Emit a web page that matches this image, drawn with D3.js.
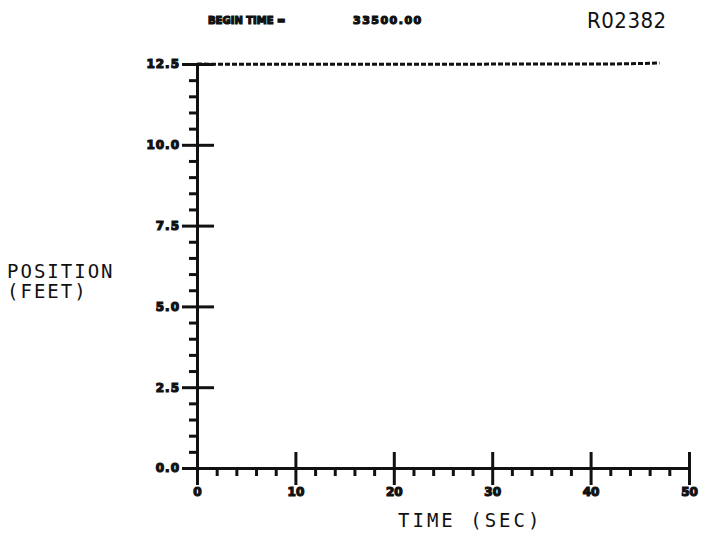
<!DOCTYPE html>
<html>
<head>
<meta charset="utf-8">
<script src="https://cdn.jsdelivr.net/npm/d3@7"></script>
<style>
  body { margin: 0; background: #fff; }
  svg { display: block; }
</style>
</head>
<body>
<svg id="chart" width="715" height="544"></svg>
<script>
// Time samples (sec) and position readings (feet) along the trace
const timeSec = [0, 2, 4, 6, 8, 10, 12, 14, 16, 18, 20, 22, 24, 26, 28, 30, 32, 34, 36, 38, 40, 42, 44, 46, 47];
const positionFt = [12.5, 12.49, 12.49, 12.49, 12.49, 12.49, 12.49, 12.49, 12.49, 12.49, 12.49, 12.49, 12.49, 12.49, 12.49, 12.5, 12.5, 12.5, 12.5, 12.5, 12.5, 12.5, 12.51, 12.52, 12.53];

const yMajor = [0, 2.5, 5, 7.5, 10, 12.5];
const yMajorLabels = ["0.0", "2.5", "5.0", "7.5", "10.0", "12.5"];
const xMajor = [0, 10, 20, 30, 40, 50];
const xMajorLabels = ["0", "10", "20", "30", "40", "50"];

const svg = d3.select('#chart');
const ink = '#111';

const x = d3.scaleLinear().domain([0, 50]).range([197, 689]);
const y = d3.scaleLinear().domain([0, 12.5]).range([468, 64]);

const yMinor = d3.range(0, 12.5001, 0.5).filter(v => !yMajor.some(m => Math.abs(m - v) < 1e-6));
const xMinor = d3.range(0, 50.001, 2).filter(v => !xMajor.includes(v));

function styleAxis(g) {
  g.selectAll('path, line').attr('stroke', ink).attr('stroke-width', 3);
  g.selectAll('text').attr('fill', ink);
}

// blocky plotter-style tick labels
function blobText(sel, size) {
  sel.attr('font-family', 'DejaVu Sans')
    .attr('font-weight', 'bold')
    .attr('font-size', size)
    .attr('letter-spacing', 1)
    .attr('stroke', ink)
    .attr('stroke-width', 1.2);
}

// Y axis: minor ticks (left only)
svg.append('g')
  .attr('transform', `translate(${x(0)},0)`)
  .call(d3.axisLeft(y).tickValues(yMinor).tickSize(8).tickSizeOuter(0).tickFormat(''))
  .call(styleAxis);

// Y axis: major ticks cross the line
svg.append('g')
  .attr('transform', `translate(${x(0)},0)`)
  .call(d3.axisRight(y).tickValues(yMajor).tickSize(17).tickSizeOuter(0).tickFormat(''))
  .call(g => g.select('.domain').remove())
  .call(styleAxis);

svg.append('g')
  .attr('transform', `translate(${x(0)},0)`)
  .call(d3.axisLeft(y).tickValues(yMajor).tickSize(15).tickSizeOuter(0).tickPadding(2)
    .tickFormat((d, i) => yMajorLabels[i]))
  .call(g => g.select('.domain').remove())
  .call(styleAxis)
  .call(g => g.selectAll('text').call(blobText, 12));

// X axis: minor ticks (down only)
svg.append('g')
  .attr('transform', `translate(0,${y(0)})`)
  .call(d3.axisBottom(x).tickValues(xMinor).tickSize(8).tickSizeOuter(0).tickFormat(''))
  .call(styleAxis);

svg.append('g')
  .attr('transform', `translate(0,${y(0)})`)
  .call(d3.axisTop(x).tickValues(xMajor).tickSize(16).tickSizeOuter(0).tickFormat(''))
  .call(g => g.select('.domain').remove())
  .call(styleAxis);

svg.append('g')
  .attr('transform', `translate(0,${y(0)})`)
  .call(d3.axisBottom(x).tickValues(xMajor).tickSize(17).tickSizeOuter(0).tickPadding(2)
    .tickFormat((d, i) => xMajorLabels[i]))
  .call(g => g.select('.domain').remove())
  .call(styleAxis)
  .call(g => g.selectAll('text').call(blobText, 12).attr('letter-spacing', 0));

// Position trace
const line = d3.line()
  .x((d, i) => x(timeSec[i]))
  .y(d => y(d));

svg.append('path')
  .datum(positionFt)
  .attr('fill', 'none')
  .attr('stroke', ink)
  .attr('stroke-width', 3)
  .attr('stroke-dasharray', '5,2')
  .attr('d', line);

// Header text
svg.append('text')
  .attr('x', 208).attr('y', 24)
  .call(blobText, 10)
  .attr('letter-spacing', 0)
  .attr('fill', ink)
  .text('BEGIN TIME =');

svg.append('text')
  .attr('x', 353).attr('y', 24)
  .call(blobText, 11)
  .attr('letter-spacing', 1.5)
  .attr('fill', ink)
  .text('33500.00');

svg.append('text')
  .attr('x', 587).attr('y', 28)
  .attr('font-family', 'DejaVu Sans Condensed').attr('font-size', 22)
  .attr('letter-spacing', 0.5)
  .attr('fill', ink)
  .text('R02382');

// Axis titles
const yTitle = svg.append('text')
  .attr('font-family', 'DejaVu Sans Mono').attr('font-size', 19)
  .attr('letter-spacing', 2)
  .attr('fill', ink);
yTitle.append('tspan').attr('x', 7).attr('y', 278).text('POSITION');
yTitle.append('tspan').attr('x', 7).attr('y', 298).text('(FEET)');

svg.append('text')
  .attr('x', 398).attr('y', 527)
  .attr('font-family', 'DejaVu Sans Mono').attr('font-size', 19)
  .attr('letter-spacing', 3)
  .attr('fill', ink)
  .text('TIME (SEC)');
</script>
</body>
</html>
